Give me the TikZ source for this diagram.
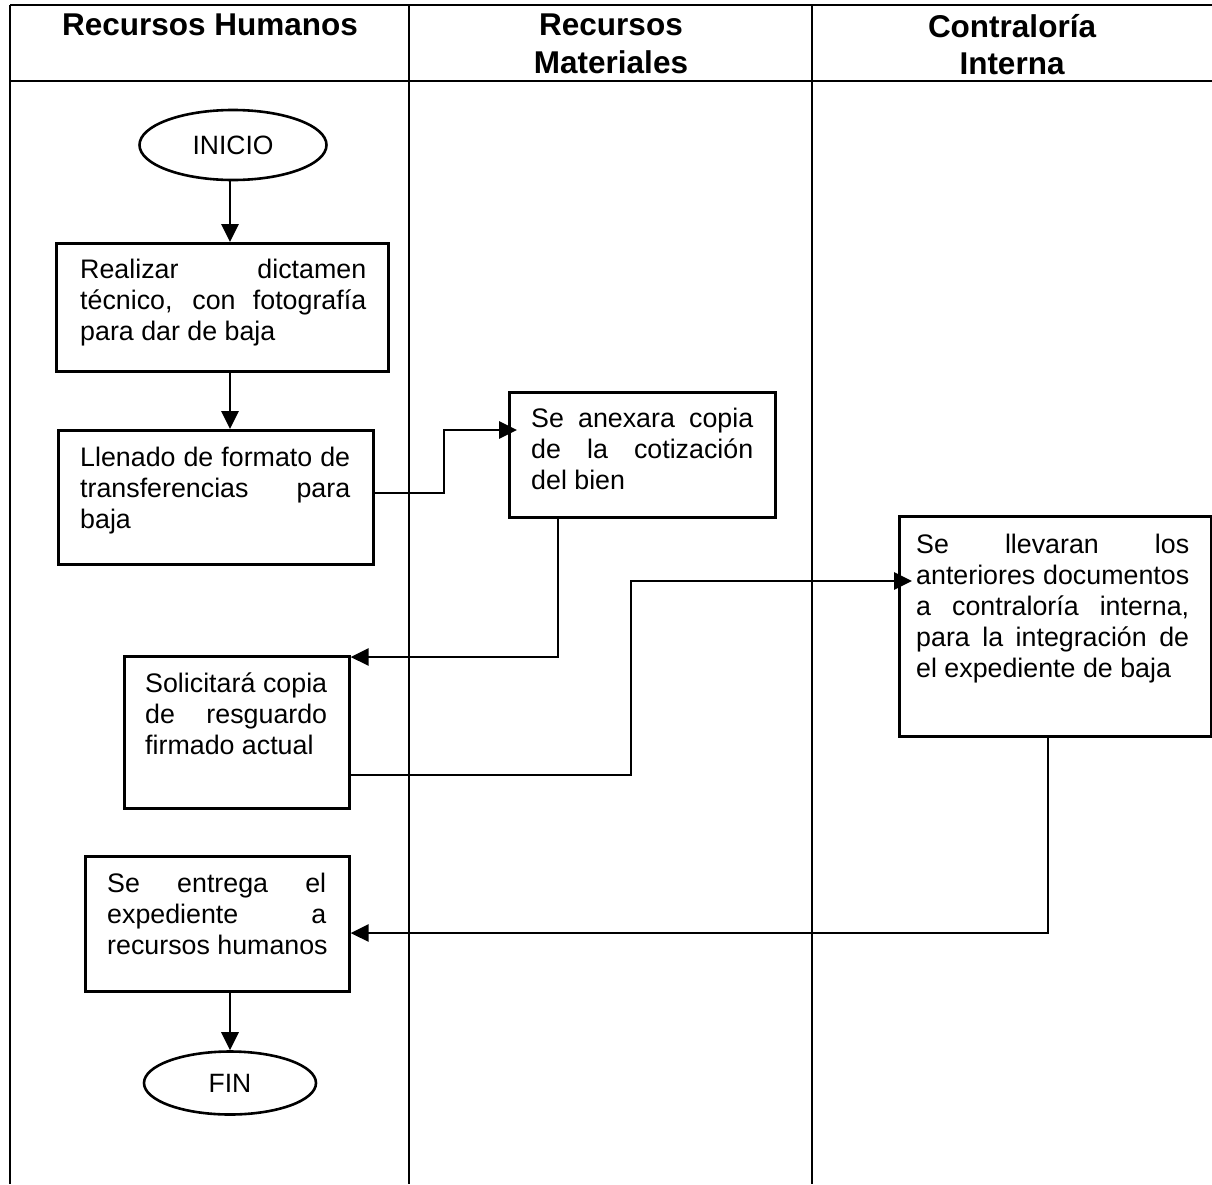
\documentclass[tikz,border=0pt]{standalone}
\usepackage{fontspec}
\setmainfont{Liberation Sans}
\usetikzlibrary{arrows.meta,shapes.geometric}
\newcommand\jline[2]{\makebox[#1pt][s]{#2}}
\begin{document}
\begin{tikzpicture}[x=1pt,y=-1pt,
 rule/.style={line width=2.4pt},
 box/.style={draw,line width=2.6pt,rectangle,inner sep=0,anchor=north west},
 term/.style={draw,ellipse,line width=2.6pt,inner sep=0,font=\fontsize{26.5}{30}\selectfont},
 txt/.style={anchor=north west,inner sep=0,align=left,font=\fontsize{26.8}{31}\selectfont},
 head/.style={anchor=north,inner sep=0,align=center,font=\bfseries\fontsize{31.5}{37.5}\selectfont},
 conn/.style={line width=2.8pt,-{Triangle[length=18pt,width=17pt]}}]
\useasboundingbox (0,0) rectangle (1212,1184);
\fill[white] (0,0) rectangle (1212,1184);
% table
\draw[rule] (10,5) -- (1212,5);
\draw[rule] (10,81) -- (1212,81);
\draw[rule] (10,5) -- (10,1184);
\draw[rule] (409,5) -- (409,1184);
\draw[rule] (812,5) -- (812,1184);
% headers
\node[head] (h1) at (210,14) {Recursos Humanos};
\node[head] (h2) at (611,14) {Recursos\\Materiales};
\node[head] (h3) at (1012,14) {Contraloría\\Interna};
% nodes
\node[term,minimum width=187pt,minimum height=70pt] (inicio) at (233,145) {INICIO};
\node[box,minimum width=332pt,minimum height=128pt] (b1) at (55,242) {};
\node[txt] (t1) at (80,259) {\jline{286}{Realizar dictamen}\\\jline{286}{técnico, con fotografía}\\para dar de baja};
\node[box,minimum width=315pt,minimum height=134pt] (b2) at (57,429) {};
\node[txt] (t2) at (80,447) {\jline{270}{Llenado de formato de}\\\jline{270}{transferencias para}\\baja};
\node[box,minimum width=266pt,minimum height=125pt] (b3) at (508,391) {};
\node[txt] (t3) at (531,408) {\jline{222}{Se anexara copia}\\\jline{222}{de la cotización}\\del bien};
\node[box,minimum width=225pt,minimum height=152pt] (b4) at (123,655) {};
\node[txt] (t4) at (145,673) {\jline{182}{Solicitará copia}\\\jline{182}{de resguardo}\\firmado actual};
\node[box,minimum width=312pt,minimum height=220pt] (b5) at (898,515) {};
\node[txt] (t5) at (916,534) {\jline{273}{Se llevaran los}\\\jline{273}{anteriores documentos}\\\jline{273}{a contraloría interna,}\\\jline{273}{para la integración de}\\el expediente de baja};
\node[box,minimum width=264pt,minimum height=135pt] (b6) at (84,855) {};
\node[txt] (t6) at (107,873) {\jline{219}{Se entrega el}\\\jline{219}{expediente a}\\recursos humanos};
\node[term,minimum width=172pt,minimum height=63pt] (fin) at (230,1083) {FIN};
% connectors
\draw[conn] (inicio.south -| 230,0) -- (b1.north -| 230,0);
\draw[conn] (b1.south -| 230,0) -- (b2.north -| 230,0);
\draw[conn,shorten >=-9pt] (b2.east |- 0,493) -| (444,430) -- (b3.west |- 0,430);
\draw[conn] (b3.south -| 558,0) |- (b4.east |- 0,657);
\draw[conn,shorten >=-14pt] (b4.east |- 0,775) -| (631,581) -- (b5.west |- 0,581);
\draw[conn] (b5.south -| 1048,0) |- (b6.east |- 0,933);
\draw[conn] (b6.south -| fin.north) -- (fin.north);
\end{tikzpicture}
\end{document}
